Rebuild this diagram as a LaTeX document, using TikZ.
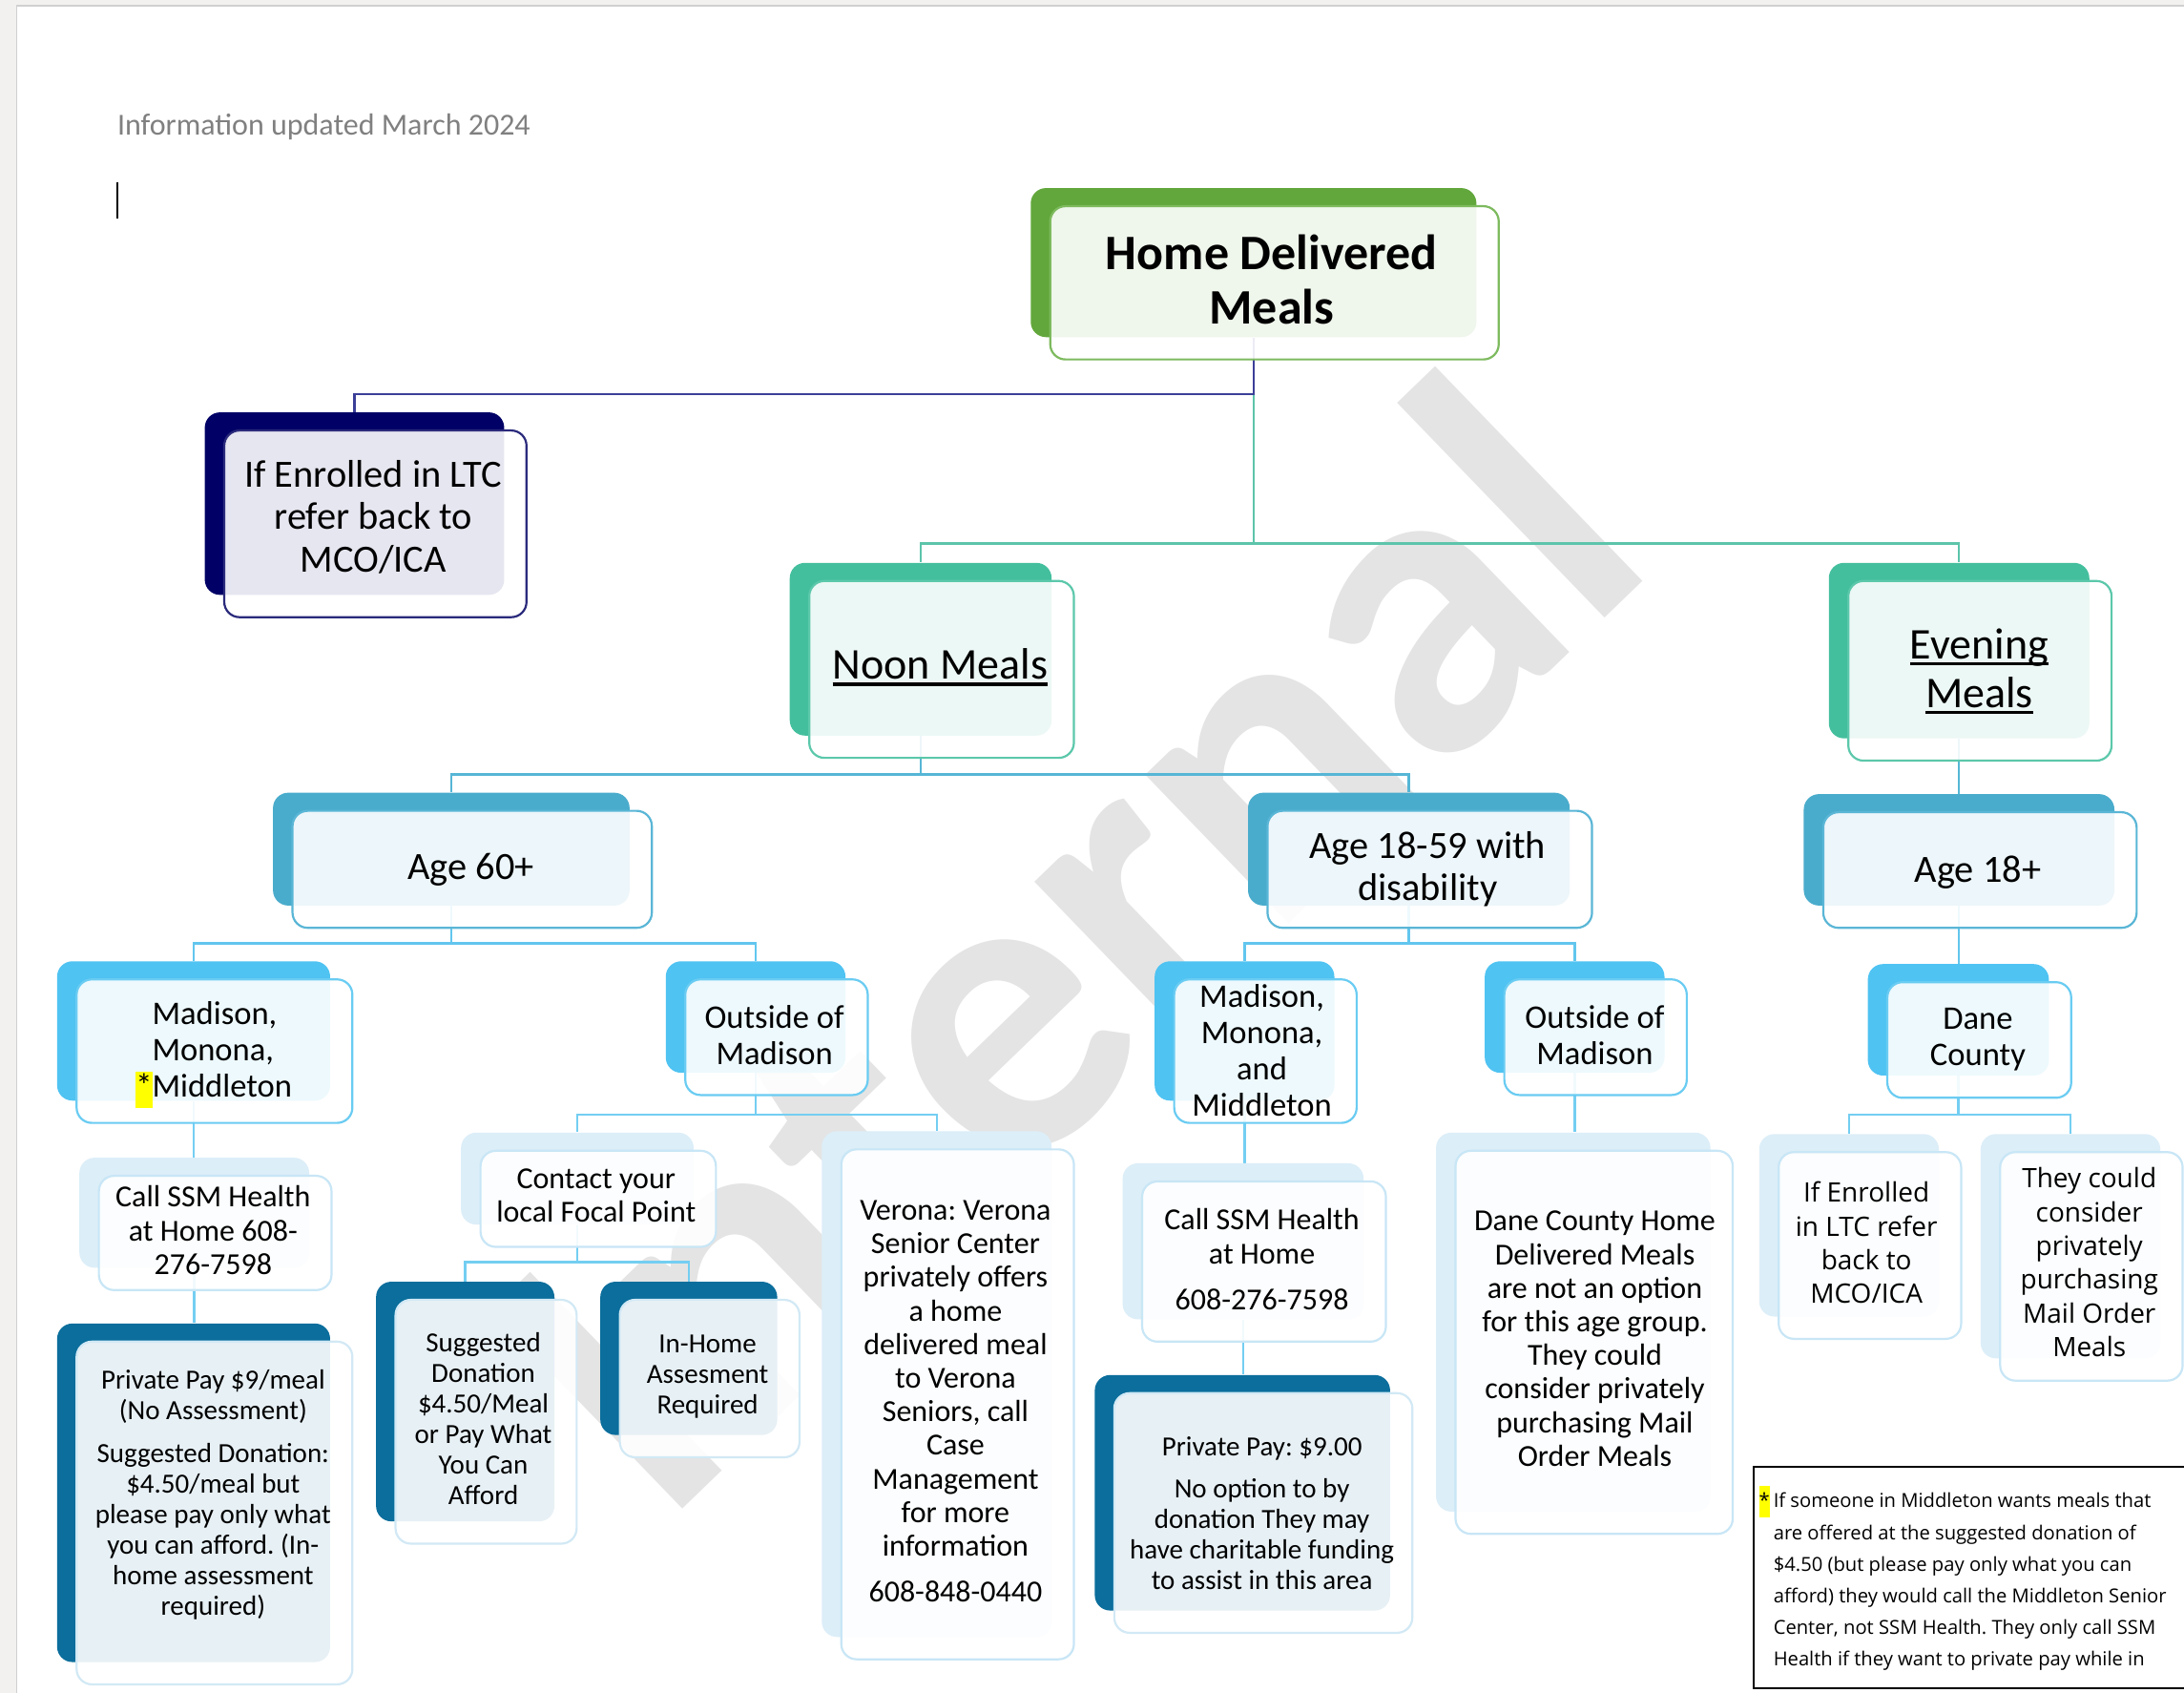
\documentclass[tikz,border=0pt]{standalone}
\usepackage{fontspec}
\setmainfont{Carlito}
\newfontfamily\osans{Open Sans}
\usetikzlibrary{fit}
\frenchspacing
\pgfdeclarelayer{wmlayer}
\pgfdeclarelayer{bglayer}
\pgfsetlayers{wmlayer,bglayer,main}
\definecolor{pagebg}{HTML}{F3F1EF}
\definecolor{pageline}{HTML}{D0D0D0}
\definecolor{infogrey}{HTML}{808080}
\definecolor{wmgrey}{HTML}{E4E4E4}
\definecolor{cGreen}{HTML}{62A73B}
\definecolor{cGreenL}{HTML}{7DBA5E}
\definecolor{cNavy}{HTML}{000066}
\definecolor{cNavyL}{HTML}{2A2A7C}
\definecolor{cNavyLine}{HTML}{3C3F98}
\definecolor{cTeal}{HTML}{44BF9E}
\definecolor{cTealL}{HTML}{5CC8AB}
\definecolor{cTealLine}{HTML}{5CC4AA}
\definecolor{cAge}{HTML}{4AACCC}
\definecolor{cAgeL}{HTML}{5AB6D6}
\definecolor{cAgeLine}{HTML}{56B6D6}
\definecolor{cLoc}{HTML}{4FC3F2}
\definecolor{cLocL}{HTML}{6ACCF2}
\definecolor{cLocLine}{HTML}{62C6EE}
\definecolor{cLeafLine}{HTML}{74CEF2}
\definecolor{cPale}{HTML}{DCEEF8}
\definecolor{cPaleL}{HTML}{C8E6F6}
\definecolor{cDark}{HTML}{0B6E9C}
\definecolor{cDarkL}{HTML}{D2E9F5}
\definecolor{hiyellow}{HTML}{FFFF00}
\newcommand\fs[2]{\fontsize{#1}{#2}\selectfont}
\newcommand\uln[1]{\setbox0\hbox{#1}\rlap{\rule[-3.4pt]{\wd0}{1.7pt}}\box0}
\newcommand\hl[1]{{\setlength{\fboxsep}{0pt}\colorbox{hiyellow}{\strut #1}}}
\tikzset{
  boxbase/.style={inner sep=0pt, rounded corners=8pt},
  backbox/.style={boxbase, fill=#1},
  frontbox/.style={boxbase, draw=#1, line width=1.1pt, fill=white, fill opacity=0.9},
  txt/.style={align=center, inner sep=0pt, text=black},
  conn/.style={line width=1.2pt, draw=#1},
  fHDM/.style={font=\fs{26pt}{28.5pt}\bfseries},
  fLTC/.style={font=\fs{20.2pt}{22.3pt}},
  fMeal/.style={font=\fs{23pt}{25.6pt}},
  fAge/.style={font=\fs{20.2pt}{21.9pt}},
  fLoc/.style={font=\fs{17.3pt}{19pt}},
  fPale/.style={font=\fs{16pt}{17.6pt}},
  fDark/.style={font=\fs{14.5pt}{16pt}},
  fOS/.style={font=\osans\fs{14pt}{17.7pt}},
}
\newcommand\mkbox[6]{%
  \node[backbox=#6, fit={(#2,#3) (#4,#5)}] (#1) {};
  \node[frontbox=#6L, fit={(#2+14,#3+13) (#4+16,#5+16)}] (#1f) {};}
\begin{document}
\begin{tikzpicture}[x=0.73pt,y=-0.73pt]
\useasboundingbox (0,0) rectangle (1568,1215);
\begin{pgfonlayer}{wmlayer}
\fill[pagebg] (0,0) rectangle (1568,1215);
\fill[white] (12,4) rectangle (1580,1230);
\draw[pageline, line width=0.9pt] (12,1230) -- (12,4) -- (1580,4);
\node[rotate=44, text=wmgrey, font=\fs{223pt}{223pt}\bfseries, inner sep=0pt] (wm) at (760,675) {Internal};
\end{pgfonlayer}

% header
\node[anchor=west, inner sep=0pt, text=infogrey, font=\fs{16pt}{19pt}] (info) at (84,91) {Information updated March 2024};
\coordinate (cura) at (84,131);
\coordinate (curb) at (84,157);
\draw[line width=0.9pt] (cura) -- (curb);

% boxes
\mkbox{hdm}{740}{135}{1060}{242}{cGreen}
\mkbox{ltc}{147}{296}{362}{427}{cNavy}
\mkbox{noon}{567}{404}{755}{528}{cTeal}
\mkbox{eve}{1313}{404}{1500}{530}{cTeal}
\mkbox{agea}{196}{569}{452}{650}{cAge}
\mkbox{ageb}{896}{569}{1127}{650}{cAge}
\mkbox{agec}{1295}{570}{1518}{650}{cAge}
\mkbox{madl}{41}{690}{237}{790}{cLoc}
\mkbox{outl}{478}{690}{607}{770}{cLoc}
\mkbox{madr}{829}{690}{958}{790}{cLoc}
\mkbox{outr}{1066}{690}{1195}{770}{cLoc}
\mkbox{dane}{1341}{692}{1471}{772}{cLoc}
\mkbox{calll}{57}{831}{222}{910}{cPale}
\mkbox{ppl}{41}{950}{237}{1193}{cDark}
\mkbox{contact}{331}{813}{498}{879}{cPale}
\mkbox{sugg}{270}{920}{398}{1092}{cDark}
\mkbox{inhome}{431}{920}{558}{1030}{cDark}
\mkbox{verona}{590}{812}{755}{1175}{cPale}
\mkbox{callr}{806}{835}{979}{947}{cPale}
\mkbox{ppr}{786}{987}{998}{1156}{cDark}
\mkbox{danehome}{1031}{813}{1228}{1085}{cPale}
\mkbox{ifenr}{1263}{814}{1392}{945}{cPale}
\mkbox{they}{1422}{814}{1551}{975}{cPale}

% connectors
\begin{pgfonlayer}{bglayer}
\coordinate (e0) at (0,283);
\coordinate (e1) at (0,390);
\coordinate (e2) at (0,556);
\coordinate (e3) at (0,677);
\coordinate (e4) at (0,800);
\coordinate (e5) at (0,906);
\draw[conn=cTealLine] (hdm.south) -- (hdm.south |- e1) -| (noon.north);
\draw[conn=cTealLine] (hdm.south |- e1) -| (eve.north);
\draw[conn=cNavyLine] (hdm.south) -- (hdm.south |- e0) -| (ltc.north);
\draw[conn=cAgeLine] (noon.south) -- (noon.south |- e2) -| (agea.north);
\draw[conn=cAgeLine] (noon.south |- e2) -| (ageb.north);
\draw[conn=cAgeLine] (eve.south) -- (eve.south |- agec.north);
\draw[conn=cLocLine] (agea.south) -- (agea.south |- e3) -| (madl.north);
\draw[conn=cLocLine] (agea.south |- e3) -| (outl.north);
\draw[conn=cLocLine] (ageb.south) -- (ageb.south |- e3) -| (madr.north);
\draw[conn=cLocLine] (ageb.south |- e3) -| (outr.north);
\draw[conn=cLocLine] (agec.south) -- (agec.south |- dane.north);
\draw[conn=cLeafLine] (madl.south) -- (madl.south |- calll.north);
\draw[conn=cLeafLine] (calll.south) -- (calll.south |- ppl.north);
\draw[conn=cLeafLine] (outl.south) -- (outl.south |- e4) -| (contact.north);
\draw[conn=cLeafLine] (outl.south |- e4) -| (verona.north);
\draw[conn=cLeafLine] (contact.south) -- (contact.south |- e5) -| (sugg.north);
\draw[conn=cLeafLine] (contact.south |- e5) -| (inhome.north);
\draw[conn=cLeafLine] (madr.south) -- (madr.south |- callr.north);
\draw[conn=cLeafLine] (callr.south) -- (callr.south |- ppr.north);
\draw[conn=cLeafLine] (outr.south) -- (outr.south |- danehome.north);
\draw[conn=cLeafLine] (dane.south) -- (dane.south |- e4) -| (ifenr.north);
\draw[conn=cLeafLine] (dane.south |- e4) -| (they.north);
\end{pgfonlayer}

% texts
\node[txt, fHDM] (hdmt) at (913,201) {Home Delivered\\Meals};
\node[txt, fLTC] (ltct) at (268,371) {If Enrolled in LTC\\refer back to\\MCO/ICA};
\node[txt, fMeal] (noont) at (675,479) {\uln{Noon Meals}};
\node[txt, fMeal] (evet) at (1421,482) {\uln{Evening}\\\uln{Meals}};
\node[txt, fAge] (ageat) at (338,624) {Age 60+};
\node[txt, fAge] (agebt) at (1025,624) {Age 18-59 with\\disability};
\node[txt, fAge] (agect) at (1420,626) {Age 18+};
\node[txt, fLoc, align=left, anchor=west] (madlt) at (109,757) {Madison,\\Monona,\\\llap{\hl{*}}Middleton};
\node[txt, fLoc] (outlt) at (556,743) {Outside of\\Madison};
\node[txt, fLoc] (madrt) at (906,754) {Madison,\\Monona,\\and\\Middleton};
\node[txt, fLoc] (outrt) at (1145,743) {Outside of\\Madison};
\node[txt, fLoc] (danet) at (1420,746) {Dane\\County};
\node[txt, fPale] (calllt) at (153,883) {Call SSM Health\\at Home 608-\\276-7598};
\node[txt, fPale] (contactt) at (428,858) {Contact your\\local Focal Point};
\node[txt, fPale] (veronat) at (686,1006) {Verona: Verona\\Senior Center\\privately offers\\a home\\delivered meal\\to Verona\\Seniors, call\\Case\\Management\\for more\\information\\[6.6pt]608-848-0440};
\node[txt, fPale] (callrt) at (906,904) {Call SSM Health\\at Home\\[6.6pt]608-276-7598};
\node[txt, fPale] (danehomet) at (1145,961) {Dane County Home\\Delivered Meals\\are not an option\\for this age group.\\They could\\consider privately\\purchasing Mail\\Order Meals};
\node[txt, fDark] (pplt) at (153,1073) {Private Pay \$9/meal\\(No Assessment)\\[6.6pt]Suggested Donation:\\\$4.50/meal but\\please pay only what\\you can afford. (In-\\home assessment\\required)};
\node[txt, fDark] (suggt) at (347,1018) {Suggested\\Donation\\\$4.50/Meal\\or Pay What\\You Can\\Afford};
\node[txt, fDark] (inhomet) at (508,988) {In-Home\\Assesment\\Required};
\node[txt, fDark] (pprt) at (906,1086) {Private Pay: \$9.00\\[5.8pt]No option to by\\donation They may\\have charitable funding\\to assist in this area};
\node[txt, fOS] (ifenrt) at (1340,892) {If Enrolled\\in LTC refer\\back to\\MCO/ICA};
\node[txt, fOS] (theyt) at (1500,906) {They could\\consider\\privately\\purchasing\\Mail Order\\Meals};

% footnote
\node[draw=black, line width=1pt, inner sep=0pt, fit={(1259,1053) (1580,1212)}] (note) {};
\node[anchor=north west, align=left, inner sep=0pt, font=\osans\fs{10.1pt}{16.6pt}] (notet) at (1273,1066) {\llap{\hl{*}\hspace{2pt}}If someone in Middleton wants meals that\\are offered at the suggested donation of\\\$4.50 (but please pay only what you can\\afford) they would call the Middleton Senior\\Center, not SSM Health. They only call SSM\\Health if they want to private pay while in};
\end{tikzpicture}
\end{document}
